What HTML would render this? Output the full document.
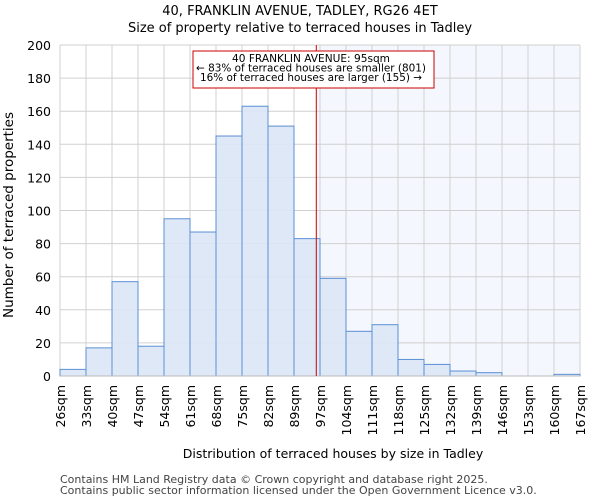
<!DOCTYPE html>
<html><head><meta charset="utf-8"><style>
body{margin:0;background:#fff;font-family:"DejaVu Sans","Liberation Sans",sans-serif}
svg text{font-family:"DejaVu Sans","Liberation Sans",sans-serif}
</style></head><body>
<svg id="c" width="600" height="500"></svg>
<script>
const binEdges=[26,33,40,47,54,61,68,75,82,89,97,104,111,118,125,132,139,146,153,160,167];
const counts=[4,17,57,18,95,87,145,163,151,83,59,27,31,10,7,3,2,0,0,1];
const yTicks=[0,20,40,60,80,100,120,140,160,180,200];
const markerIndex=9+6/7; // 95sqm position in bin units
const NS="http://www.w3.org/2000/svg";
const svg=document.getElementById('c');
const L=60,R=580,T=45,B=376;
const n=counts.length;
const x=i=>L+(R-L)*i/n;
const y=v=>B-(B-T)*v/200;
function el(t,a,p){const e=document.createElementNS(NS,t);for(const k in a)e.setAttribute(k,a[k]);(p||svg).appendChild(e);return e;}
let t=el('text',{x:300,y:15,'text-anchor':'middle','font-size':13});t.textContent='40, FRANKLIN AVENUE, TADLEY, RG26 4ET';

t=el('text',{x:300,y:32,'text-anchor':'middle','font-size':13});t.textContent='Size of property relative to terraced houses in Tadley';

let sh=el('rect',{x:x(markerIndex),y:T,width:R-x(markerIndex),height:B-T,fill:'#f4f7fd'});

for(let i=0;i<=n;i++){const g=el('line',{x1:x(i),x2:x(i),y1:T,y2:B,stroke:'#d0d0d0'});}
yTicks.forEach(v=>{const g=el('line',{x1:L,x2:R,y1:y(v),y2:y(v),stroke:'#d0d0d0'});
const tt=el('text',{x:L-9,y:y(v)+5,'text-anchor':'end','font-size':12.5});tt.textContent=v;});
counts.forEach((c,i)=>{const r=el('rect',{x:x(i),y:y(c),width:x(i+1)-x(i),height:B-y(c),fill:'#dce6f5',stroke:'#5b8fd6','stroke-width':1,'fill-opacity':0.9});
});
binEdges.forEach((b,i)=>{const tt=el('text',{transform:`translate(${x(i)+5},385) rotate(-90)`,'text-anchor':'end','font-size':12.5});tt.textContent=b+'sqm';
});
let ax=el('line',{x1:L,x2:R,y1:B,y2:B,stroke:'#bbb'});
let ml=el('line',{x1:x(markerIndex),x2:x(markerIndex),y1:T,y2:B,stroke:'#c00','stroke-width':1});
let bx=el('rect',{x:193,y:51,width:241,height:37,fill:'#fff',stroke:'#c00'});
const aw=[158,230,222];
['40 FRANKLIN AVENUE: 95sqm','← 83% of terraced houses are smaller (801)','16% of terraced houses are larger (155) →'].forEach((s,i)=>{const tt=el('text',{x:311,y:62+i*9.4,'text-anchor':'middle','font-size':10.5,textLength:aw[i],lengthAdjust:'spacingAndGlyphs'});tt.textContent=s;});
t=el('text',{x:333,y:458,'text-anchor':'middle','font-size':12.5});t.textContent='Distribution of terraced houses by size in Tadley';
t=el('text',{transform:'translate(13,215) rotate(-90)','text-anchor':'middle','font-size':13.5});t.textContent='Number of terraced properties';
t=el('text',{x:60,y:483,'font-size':11,fill:'#444'});t.textContent='Contains HM Land Registry data © Crown copyright and database right 2025.';
t=el('text',{x:60,y:494,'font-size':11,fill:'#444'});t.textContent='Contains public sector information licensed under the Open Government Licence v3.0.';
</script></body></html>
